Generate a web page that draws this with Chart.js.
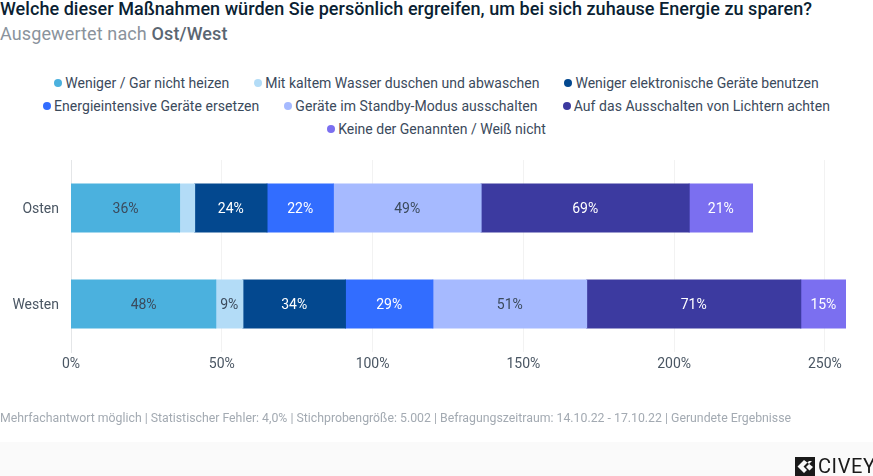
<!DOCTYPE html>
<html>
<head>
<meta charset="utf-8">
<script src="https://cdn.jsdelivr.net/npm/chart.js@4"></script>
<style>
    html, body { margin: 0; padding: 0; background: #fff; }
    body { width: 873px; height: 476px; overflow: hidden; position: relative; font-family: Roboto, sans-serif; }
    #canvas { position: absolute; left: 0; top: 0; }
    #titel { position: absolute; left: 0; top: -2px; font-size: 18px; line-height: 22px; font-weight: 500; letter-spacing: 0.05px; color: #0b1f33; white-space: nowrap; }
    #untertitel { position: absolute; left: 0; top: 23px; font-size: 18px; line-height: 22px; letter-spacing: 0.12px; color: #8a939c; white-space: nowrap; }
    #untertitel b { font-weight: 500; color: #5b6672; }
    #legende { position: absolute; left: 0; top: 71px; width: 873px; }
    .zeile { display: flex; justify-content: center; height: 23px; align-items: center; font-size: 14px; letter-spacing: 0.01px; color: #3b4a5c; white-space: nowrap; }
    .zeile:nth-child(2) { letter-spacing: 0.06px; }
    .eintrag { display: flex; align-items: center; margin: 0 12.5px; }
    .punkt { width: 8px; height: 8px; border-radius: 50%; margin-right: 3px; }
    #fuss { position: absolute; left: 0; top: 410px; font-size: 12.3px; line-height: 16px; color: #a3aab2; white-space: nowrap; }
    #band { position: absolute; left: 0; top: 442px; width: 873px; height: 34px; background: #fafafa; }
    #logo { position: absolute; left: 795px; top: 457px; }
    #marke { position: absolute; left: 818px; top: 456px; font-size: 20px; line-height: 20px; color: #1a1a1a; letter-spacing: 0.6px; }
</style>
</head>
<body>
<div id="band"></div>
<div id="titel">Welche dieser Maßnahmen würden Sie persönlich ergreifen, um bei sich zuhause Energie zu sparen?</div>
<div id="untertitel">Ausgewertet nach <b>Ost/West</b></div>
<div id="legende"></div>
<canvas id="canvas" width="873" height="476"></canvas>
<div id="fuss">Mehrfachantwort möglich | Statistischer Fehler: 4,0% | Stichprobengröße: 5.002 | Befragungszeitraum: 14.10.22 - 17.10.22 | Gerundete Ergebnisse</div>
<svg id="logo" width="20" height="19" viewBox="0 0 20 19">
    <path d="M0 0H20V19H0Z" fill="#1a1a1a"/>
    <path d="M9 3L2.5 9.5L9 16L12 13L8.5 9.5L14 4L17 4L11 10L14.5 13.5L18 10" fill="#fafafa"/>
</svg>
<div id="marke">CIVEY</div>

<script>
var regionen = ['Osten', 'Westen'];
var massnahmen = [
    'Weniger / Gar nicht heizen',
    'Mit kaltem Wasser duschen und abwaschen',
    'Weniger elektronische Geräte benutzen',
    'Energieintensive Geräte ersetzen',
    'Geräte im Standby-Modus ausschalten',
    'Auf das Ausschalten von Lichtern achten',
    'Keine der Genannten / Weiß nicht'
];
var heizen = [36, 48];
var kaltWasser = [5, 9];
var elektronik = [24, 34];
var ersetzen = [22, 29];
var standby = [49, 51];
var lichter = [69, 71];
var keine = [21, 15];
var xTicks = [0, 50, 100, 150, 200, 250];

var werte = [heizen, kaltWasser, elektronik, ersetzen, standby, lichter, keine];
var farben = ['#4bb1de', '#b3dcf7', '#03488f', '#326dff', '#a6baff', '#3c3aa0', '#7b6ff0'];
var schriftHell = [false, false, true, true, false, true, true];
var legendenZeilen = [[0, 1, 2], [3, 4, 5], [6]];

// Legende
var legende = document.getElementById('legende');
legendenZeilen.forEach(function (zeile) {
    var div = document.createElement('div');
    div.className = 'zeile';
    zeile.forEach(function (i) {
        var e = document.createElement('div');
        e.className = 'eintrag';
        var p = document.createElement('span');
        p.className = 'punkt';
        p.style.background = farben[i];
        e.appendChild(p);
        e.appendChild(document.createTextNode(massnahmen[i]));
        div.appendChild(e);
    });
    legende.appendChild(div);
});

function createDataset(i) {
    return {
        label: massnahmen[i],
        data: werte[i],
        backgroundColor: farben[i],
        borderWidth: 0,
        inflateAmount: 0.5,
        barPercentage: 0.5,
        categoryPercentage: 1
    };
}

// Prozentwerte in den Balken
var balkenText = {
    id: 'balkenText',
    afterDatasetsDraw: function (chart) {
        var ctx = chart.ctx;
        ctx.save();
        ctx.font = '14px Roboto';
        ctx.textAlign = 'center';
        ctx.textBaseline = 'middle';
        chart.data.datasets.forEach(function (ds, i) {
            chart.getDatasetMeta(i).data.forEach(function (bar, j) {
                if (ds.data[j] < 8) return;
                ctx.fillStyle = schriftHell[i] ? '#ffffff' : '#3b4a5c';
                ctx.fillText(ds.data[j] + '%', (bar.x + bar.base) / 2, bar.y + 1);
            });
        });
        ctx.restore();
    }
};

var ctx = document.getElementById('canvas').getContext('2d');
new Chart(ctx, {
    type: 'bar',
    data: {
        labels: regionen,
        datasets: werte.map(function (v, i) { return createDataset(i); })
    },
    options: {
        indexAxis: 'y',
        responsive: false,
        animation: false,
        layout: { padding: { left: 0, right: 27, top: 160, bottom: 84 } },
        plugins: { legend: { display: false }, tooltip: { enabled: false } },
        scales: {
            x: {
                stacked: true,
                min: 0,
                max: 257,
                afterBuildTicks: function (scale) {
                    scale.ticks = xTicks.map(function (v) { return { value: v }; });
                },
                afterFit: function (scale) { scale.height = 40; },
                grid: { color: '#f2f2f2', drawTicks: false, tickLength: 0 },
                border: { display: false },
                ticks: {
                    padding: 4,
                    maxRotation: 0,
                    color: '#4a5663',
                    font: { family: 'Roboto', size: 14 },
                    callback: function (v) { return v + '%'; }
                }
            },
            y: {
                stacked: true,
                afterFit: function (scale) { scale.width = 71; },
                grid: { display: false, drawTicks: false },
                border: { display: true, color: '#e4e6e8' },
                ticks: {
                    padding: 12,
                    labelOffset: 1,
                    color: '#4a5663',
                    font: { family: 'Roboto', size: 14 }
                }
            }
        }
    },
    plugins: [balkenText]
});
</script>
</body>
</html>
